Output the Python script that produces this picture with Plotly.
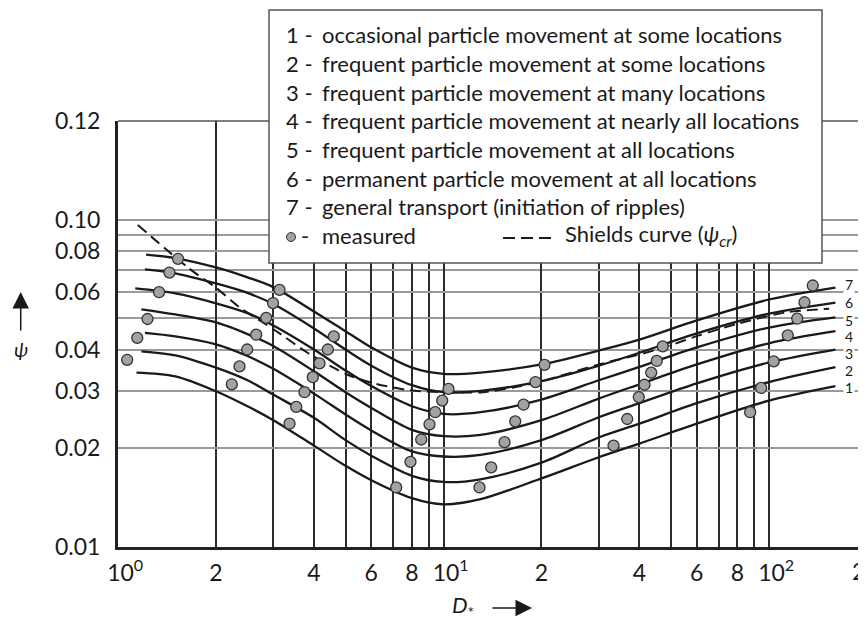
import math
import plotly.graph_objects as go

# ---------------- data ----------------
D_grid = [1.5, 2, 2.5, 3, 4, 5, 6, 8, 10, 13, 20, 30, 40, 60, 100, 160]
curve_ids = ["1", "2", "3", "4", "5", "6", "7"]
curve_start_D = [1.14, 1.18, 1.21, 1.18, 1.13, 1.21, 1.22]
psi_curve_1 = [0.0341, 0.0332, 0.0299, 0.0269, 0.0244, 0.0204, 0.0177, 0.0160, 0.0141, 0.0135, 0.0140, 0.0162, 0.0188, 0.0207, 0.0238, 0.0280, 0.0310]
psi_curve_2 = [0.0396, 0.0385, 0.0353, 0.0323, 0.0292, 0.0248, 0.0212, 0.0190, 0.0165, 0.0158, 0.0161, 0.0181, 0.0216, 0.0238, 0.0275, 0.0319, 0.0354]
psi_curve_3 = [0.0451, 0.0440, 0.0416, 0.0383, 0.0350, 0.0294, 0.0254, 0.0227, 0.0196, 0.0189, 0.0191, 0.0212, 0.0249, 0.0275, 0.0316, 0.0366, 0.0401]
psi_curve_4 = [0.0532, 0.0513, 0.0485, 0.0447, 0.0411, 0.0344, 0.0297, 0.0266, 0.0228, 0.0218, 0.0220, 0.0244, 0.0284, 0.0314, 0.0361, 0.0419, 0.0456]
psi_curve_5 = [0.0616, 0.0595, 0.0555, 0.0518, 0.0475, 0.0401, 0.0346, 0.0310, 0.0269, 0.0255, 0.0258, 0.0282, 0.0323, 0.0355, 0.0407, 0.0468, 0.0503]
psi_curve_6 = [0.0704, 0.0685, 0.0638, 0.0597, 0.0552, 0.0465, 0.0401, 0.0358, 0.0312, 0.0297, 0.0300, 0.0321, 0.0358, 0.0392, 0.0449, 0.0516, 0.0558]
psi_curve_7 = [0.0782, 0.0763, 0.0714, 0.0666, 0.0622, 0.0524, 0.0456, 0.0407, 0.0353, 0.0338, 0.0341, 0.0361, 0.0398, 0.0430, 0.0492, 0.0570, 0.0620]

shields_D = [1.15, 1.66, 2.0, 2.36, 2.78, 3.2, 3.79, 4.56, 5.14, 6.2, 7.9, 10, 13.2, 16.7, 19.7, 30, 41, 48, 61, 81, 113, 153]
shields_psi = [0.0963, 0.0707, 0.0619, 0.0540, 0.0486, 0.0443, 0.0394, 0.0354, 0.0334, 0.0315, 0.0301, 0.0297, 0.0297, 0.0308, 0.0319, 0.0361, 0.0390, 0.0408, 0.0443, 0.0482, 0.0521, 0.0534]

measured_D = [1.067, 1.146, 1.232, 1.337, 1.439, 1.529,
              2.237, 2.362, 2.494, 2.658, 2.853, 2.994, 3.135,
              3.365, 3.528, 3.741, 3.967, 4.159, 4.412, 4.603,
              7.155, 7.918, 8.542, 9.057, 9.430, 9.908, 10.36,
              12.90, 14.01, 15.40, 16.61, 17.62, 19.17, 20.43,
              33.29, 36.68, 39.81, 41.45, 43.46, 45.21, 47.17,
              87.53, 94.62, 103.4, 114.2, 122.1, 128.5, 136.3]
measured_psi = [0.0373, 0.0435, 0.0497, 0.0600, 0.0689, 0.0759,
                0.0314, 0.0356, 0.0401, 0.0445, 0.0501, 0.0556, 0.0610,
                0.0238, 0.0268, 0.0297, 0.0330, 0.0364, 0.0401, 0.0440,
                0.0152, 0.0182, 0.0213, 0.0237, 0.0258, 0.0280, 0.0304,
                0.0152, 0.0175, 0.0209, 0.0242, 0.0272, 0.0319, 0.0360,
                0.0204, 0.0246, 0.0287, 0.0313, 0.0341, 0.0370, 0.0410,
                0.0258, 0.0306, 0.0369, 0.0443, 0.0498, 0.0559, 0.0629]

x_tick_vals = [1, 2, 4, 6, 8, 10, 20, 40, 60, 80, 100]
x_tick_text = ["\u2002\u200910<sup>0</sup>", "2", "4", "6", "8", "\u2002\u200910<sup>1</sup>",
               "2", "4", "6", "8", "\u2002\u200910<sup>2</sup>"]
x_minor_vals = [3, 5, 7, 9, 30, 50, 70, 90]
x_extra_tick_val = 200
x_extra_tick_text = "2"
# the figure's top frame line sits where a log scale puts 0.2 but is labelled 0.12
y_tick_vals = [0.01, 0.02, 0.03, 0.04, 0.06, 0.08, 0.10, 0.2]
y_tick_text = ["0.01", "0.02", "0.03", "0.04", "0.06", "0.08", "0.10", "0.12"]
y_minor_vals = [0.05, 0.07, 0.09]

legend_numbers = ["1", "2", "3", "4", "5", "6", "7"]
legend_texts = ["occasional particle movement at some locations",
                "frequent particle movement at some locations",
                "frequent particle movement at many locations",
                "frequent particle movement at nearly all locations",
                "frequent particle movement at all locations",
                "permanent particle movement at all locations",
                "general transport (initiation of ripples)"]
legend_measured = "measured"
legend_shields = "Shields curve (<i>ψ<sub>cr</sub></i>)"

# ---------------- layout geometry ----------------
# the page body has an 8px margin, so the figure is drawn 8px smaller and
# every screen position below is given in screen pixels minus that offset
OFF = 8
W, H = 866 - OFF, 618 - OFF
ML, MR, MT, MB = 118 - OFF, 1, 121 - OFF, 618 - 547
PW, PH = W - ML - MR, H - MT - MB
X_DEC = 325.5
X_RANGE = [0, PW / X_DEC]
Y_RANGE = [math.log10(0.01), math.log10(0.2)]


def px(x):
    """screen x (px) -> paper x"""
    return (x - OFF - ML) / PW


def py(y):
    """screen y (px) -> paper y"""
    return (H - MB - (y - OFF)) / PH


FONT = "Lato, 'Open Sans', sans-serif"
INK = "#1a1a1a"
TXT = 23

fig = go.Figure()

curves = [psi_curve_1, psi_curve_2, psi_curve_3, psi_curve_4, psi_curve_5, psi_curve_6, psi_curve_7]
for cid, d0, vals in zip(curve_ids, curve_start_D, curves):
    fig.add_trace(go.Scatter(x=[d0] + D_grid, y=vals, mode="lines",
                             line=dict(color=INK, width=2.3, shape="spline", smoothing=0.9),
                             name=cid, showlegend=False, hoverinfo="skip"))

fig.add_trace(go.Scatter(x=shields_D, y=shields_psi, mode="lines",
                         line=dict(color=INK, width=2, dash="11px,6px", shape="spline", smoothing=0.8),
                         showlegend=False, hoverinfo="skip"))

fig.add_trace(go.Scatter(x=measured_D, y=measured_psi, mode="markers",
                         marker=dict(size=11, color="#a2a2a2", line=dict(color="#333333", width=1.3)),
                         showlegend=False, hoverinfo="skip"))

grid_v = "#2b2b2b"
grid_h = "#9a9a9a"

fig.update_xaxes(type="log", range=X_RANGE, tickmode="array", automargin=False,
                 tickvals=x_tick_vals, ticktext=x_tick_text, ticks="", tickangle=0,
                 showgrid=True, gridcolor=grid_v, gridwidth=1.5,
                 minor=dict(tickmode="array", tickvals=x_minor_vals, showgrid=True,
                            gridcolor=grid_v, gridwidth=1.5, ticks=""),
                 showline=True, linecolor="#222222", linewidth=3, zeroline=False,
                 tickfont=dict(family=FONT, size=TXT, color=INK), ticklabelstandoff=3)
fig.update_yaxes(type="log", range=Y_RANGE, tickmode="array", automargin=False,
                 tickvals=y_tick_vals, ticktext=y_tick_text, ticks="", tickangle=0,
                 showgrid=True, gridcolor=grid_h, gridwidth=1.5,
                 minor=dict(tickmode="array", tickvals=y_minor_vals, showgrid=True,
                            gridcolor=grid_h, gridwidth=1.5, ticks=""),
                 showline=True, linecolor="#222222", linewidth=3, zeroline=False,
                 tickfont=dict(family=FONT, size=TXT, color=INK), ticklabelstandoff=10)

shapes = []
# top and right frame lines
shapes.append(dict(type="line", xref="paper", yref="paper", x0=0, x1=1, y0=1, y1=1,
                   line=dict(color="#555555", width=1.5)))
shapes.append(dict(type="line", xref="paper", yref="paper", x0=1, x1=1, y0=0, y1=1,
                   line=dict(color="#555555", width=1.5)))
# legend box
shapes.append(dict(type="rect", xref="paper", yref="paper", layer="above",
                   x0=px(269), x1=px(822), y0=py(263), y1=py(10),
                   fillcolor="white", line=dict(color="#555555", width=1.5)))
# legend marker sample
shapes.append(dict(type="circle", xref="paper", yref="paper", layer="above",
                   x0=px(286.5), x1=px(295.5), y0=py(241.5), y1=py(232.5),
                   fillcolor="#a2a2a2", line=dict(color="#333333", width=1)))
# legend dashed sample
shapes.append(dict(type="line", xref="paper", yref="paper", layer="above",
                   x0=px(503), x1=px(552), y0=py(238), y1=py(238),
                   line=dict(color=INK, width=2, dash="12px,6px")))

ann = []
row_y = [35.0 + 28.6 * i for i in range(8)]
LEG = 22
for i, (num, txt) in enumerate(zip(legend_numbers, legend_texts)):
    ann.append(dict(xref="paper", yref="paper", x=px(284), y=py(row_y[i]), text=num + " -",
                    showarrow=False, xanchor="left", yanchor="middle",
                    font=dict(family=FONT, size=LEG, color=INK)))
    ann.append(dict(xref="paper", yref="paper", x=px(320), y=py(row_y[i]), text=txt,
                    showarrow=False, xanchor="left", yanchor="middle",
                    font=dict(family=FONT, size=LEG, color=INK)))
ann.append(dict(xref="paper", yref="paper", x=px(299), y=py(row_y[7]), text="-",
                showarrow=False, xanchor="left", yanchor="middle",
                font=dict(family=FONT, size=LEG, color=INK)))
ann.append(dict(xref="paper", yref="paper", x=px(320), y=py(row_y[7]), text=legend_measured,
                showarrow=False, xanchor="left", yanchor="middle",
                font=dict(family=FONT, size=LEG, color=INK)))
ann.append(dict(xref="paper", yref="paper", x=px(563), y=py(row_y[7]), text=legend_shields,
                showarrow=False, xanchor="left", yanchor="middle",
                font=dict(family=FONT, size=LEG, color=INK)))

# curve number labels at the right end
label_y = [387, 370, 353, 336.7, 320, 302, 284.3]
for cid, ly in zip(curve_ids, label_y):
    ann.append(dict(xref="paper", yref="paper", x=px(849), y=py(ly), text=cid,
                    showarrow=False, xanchor="center", yanchor="middle",
                    bgcolor="white", borderpad=1,
                    font=dict(family=FONT, size=14, color=INK)))

# extra x tick label at the page edge (as in the reference)
ann.append(dict(xref="paper", yref="paper", x=px(867), y=py(571),
                text=x_extra_tick_text, showarrow=False, xanchor="right", yanchor="middle",
                font=dict(family=FONT, size=TXT, color=INK)))

# axis titles
ann.append(dict(xref="paper", yref="paper", x=px(451), y=py(606), text="<i>D</i><sub>*</sub>",
                showarrow=False, xanchor="left", yanchor="middle", borderpad=0,
                font=dict(family=FONT, size=22, color=INK)))
ann.append(dict(xref="paper", yref="paper", x=px(532), y=py(608), text="",
                showarrow=True, axref="pixel", ayref="pixel", ax=-41, ay=0,
                arrowhead=2, arrowsize=2.2, arrowwidth=1.5, arrowcolor=INK, standoff=0))
ann.append(dict(xref="paper", yref="paper", x=px(20.7), y=py(292), text="",
                showarrow=True, axref="pixel", ayref="pixel", ax=0, ay=40,
                arrowhead=2, arrowsize=2.2, arrowwidth=1.5, arrowcolor=INK, standoff=0))
ann.append(dict(xref="paper", yref="paper", x=px(20.7), y=py(349), text="<i>ψ</i>",
                showarrow=False, xanchor="center", yanchor="middle",
                font=dict(family=FONT, size=20, color=INK)))

fig.update_layout(width=W, height=H, margin=dict(l=ML, r=MR, t=MT, b=MB),
                  paper_bgcolor="white", plot_bgcolor="white",
                  shapes=shapes, annotations=ann, showlegend=False,
                  font=dict(family=FONT, color=INK))

fig.write_html("out.html")
